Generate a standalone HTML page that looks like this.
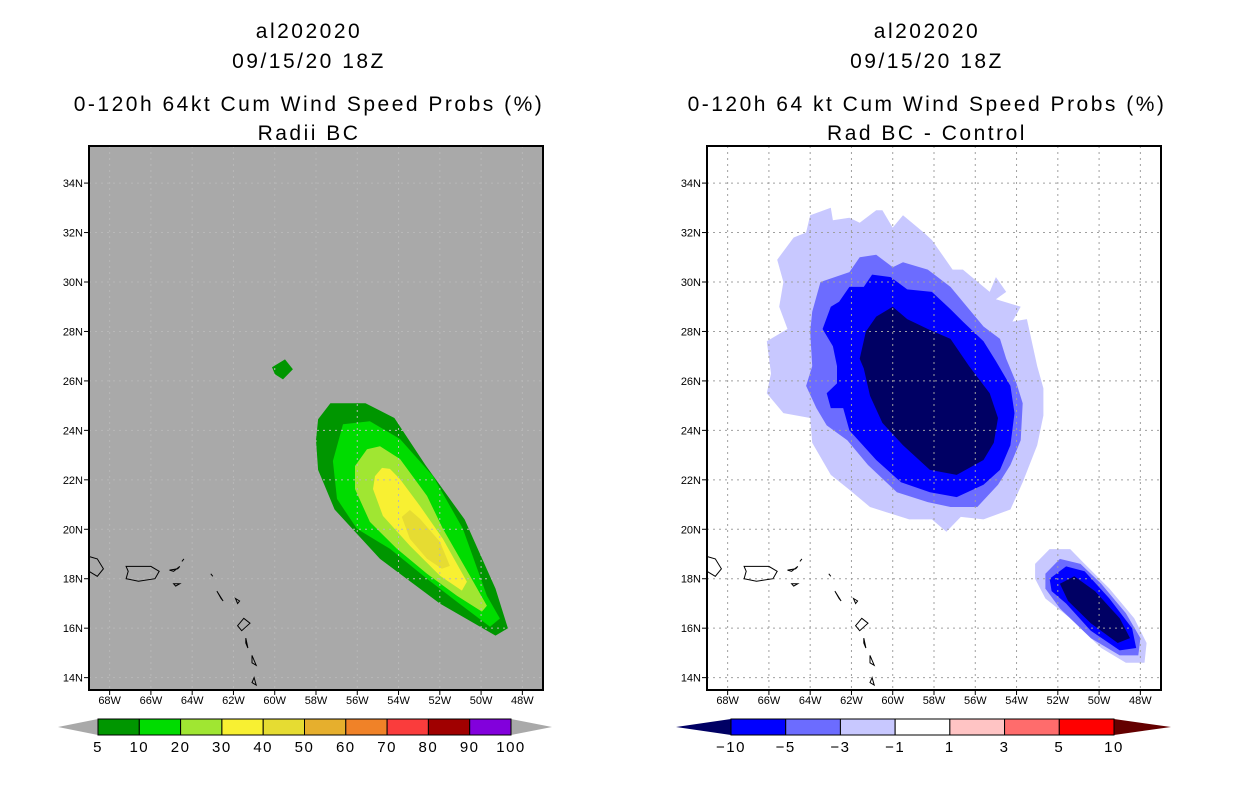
<!DOCTYPE html>
<html><head><meta charset="utf-8"><style>
html,body{margin:0;padding:0;background:#fff;}
svg{display:block;font-family:"Liberation Sans",sans-serif;}
</style></head><body>
<svg id="chart" width="1236" height="800" viewBox="0 0 1236 800" xmlns="http://www.w3.org/2000/svg"></svg>
<script>
// ---- data ----
const latTicks = [14,16,18,20,22,24,26,28,30,32,34];
const lonTicks = [-68,-66,-64,-62,-60,-58,-56,-54,-52,-50,-48];
const leftLevels = ["5","10","20","30","40","50","60","70","80","90","100"];
const leftColors = ["#009600","#00dc00","#a0e632","#f8f032","#e6dc32","#e6af2d","#f08228","#fa3c3c","#a00000","#8200dc"];
const rightLevels = ["-10","-5","-3","-1","1","3","5","10"];
const rightColors = ["#0000ff","#6c6cff","#c8c8ff","#ffffff","#ffc4c4","#ff6c6c","#ff0000"];
// contour polygons [lon, lat]
const leftC10 = [[-57.9,24.45],[-57.3,25.1],[-55.6,25.1],[-54.2,24.5],[-52.7,22.6],[-50.8,20.4],[-49.3,17.6],[-48.7,16.0],[-49.3,15.7],[-52.0,17.0],[-54.9,18.8],[-57.1,20.8],[-57.9,22.4],[-58.0,23.6]];
const leftPatch = [[-60.13,26.55],[-59.5,26.87],[-59.12,26.47],[-59.6,26.06],[-59.99,26.27]];
const leftC20 = [[-57.18,22.76],[-56.69,24.25],[-55.39,24.37],[-53.93,23.65],[-52.33,22.15],[-50.88,20.02],[-49.72,17.31],[-49.09,16.39],[-49.57,16.06],[-51.17,17.07],[-52.62,18.0],[-54.42,19.21],[-56.02,20.02],[-56.98,21.23]];
const leftC30 = [[-56.11,22.56],[-55.53,23.24],[-54.90,23.36],[-53.93,22.84],[-52.62,21.35],[-51.85,20.02],[-50.54,18.12],[-49.72,16.91],[-49.96,16.67],[-51.17,17.31],[-52.62,18.2],[-54.08,19.21],[-55.39,20.30],[-56.11,21.63]];
const leftC40 = [[-55.14,22.15],[-54.80,22.48],[-54.42,22.44],[-53.93,22.03],[-52.96,20.94],[-51.85,19.61],[-50.69,17.88],[-50.93,17.52],[-51.99,18.12],[-53.45,19.33],[-54.76,20.54],[-55.24,21.63]];
const leftC50 = [[-53.84,20.5],[-53.45,20.78],[-52.96,20.42],[-51.99,19.49],[-51.51,18.52],[-51.9,18.4],[-52.62,18.81],[-53.45,19.61]];
const rightC1 = [[-64.0,32.7],[-63.0,33.0],[-62.9,32.5],[-62.1,32.6],[-61.6,32.4],[-60.8,32.9],[-60.5,32.9],[-60.0,32.2],[-59.5,32.7],[-58.5,32.0],[-58.1,31.7],[-57.1,30.5],[-56.6,30.5],[-55.3,29.6],[-55.0,30.2],[-54.5,29.6],[-55.0,29.3],[-53.8,29.0],[-54.2,28.4],[-53.5,28.5],[-53.0,26.6],[-52.7,25.7],[-52.7,24.6],[-53.0,23.4],[-53.7,21.9],[-54.3,20.8],[-55.6,20.4],[-56.7,20.5],[-57.4,19.9],[-58.1,20.4],[-59.2,20.4],[-61.1,20.9],[-62.1,21.6],[-63.0,22.2],[-63.9,23.5],[-64.0,24.5],[-65.3,24.7],[-66.1,25.5],[-65.9,26.3],[-66.1,27.6],[-65.1,28.1],[-65.5,29.0],[-65.3,30.0],[-65.6,30.9],[-64.8,31.8],[-64.2,32.0]];
const rightC3 = [[-63.5,30.0],[-62.1,30.4],[-61.6,31.0],[-60.8,31.1],[-60.0,30.6],[-59.5,30.8],[-58.3,30.5],[-57.2,29.8],[-56.3,28.9],[-55.6,28.2],[-54.8,27.7],[-54.5,26.9],[-54.0,25.9],[-53.7,25.1],[-53.8,23.6],[-54.3,22.6],[-54.9,21.8],[-55.9,20.9],[-57.2,20.9],[-58.3,21.1],[-59.8,21.5],[-61.2,22.6],[-62.2,23.6],[-63.2,24.2],[-63.7,24.9],[-64.2,25.8],[-63.9,26.6],[-64.0,28.0],[-63.9,28.8]];
const rightC5 = [[-63.0,29.0],[-62.6,29.2],[-62.1,29.8],[-61.4,29.8],[-61.0,30.3],[-60.1,30.2],[-59.3,29.7],[-58.1,29.6],[-57.2,28.9],[-56.6,28.4],[-55.6,27.6],[-55.0,26.8],[-54.3,25.8],[-54.1,24.7],[-54.3,23.4],[-54.8,22.4],[-55.6,21.8],[-56.9,21.3],[-58.2,21.5],[-59.6,21.9],[-60.8,22.8],[-62.1,24.0],[-62.4,24.9],[-63.0,24.9],[-63.2,25.5],[-62.7,25.9],[-62.7,26.6],[-62.9,27.4],[-63.4,28.1]];
const rightC10 = [[-60.0,29.0],[-59.3,28.5],[-58.3,28.1],[-57.2,27.7],[-56.3,26.6],[-55.3,25.5],[-54.9,24.5],[-55.1,23.5],[-55.6,22.8],[-56.9,22.2],[-58.2,22.4],[-59.5,23.4],[-60.5,24.3],[-61.1,25.4],[-61.4,26.5],[-61.6,26.9],[-61.3,28.0],[-60.8,28.6]];
const smallC1 = [[-53.1,18.6],[-52.4,19.2],[-51.4,19.2],[-50.7,18.6],[-49.5,17.6],[-48.3,16.4],[-47.7,15.4],[-47.8,14.6],[-48.7,14.6],[-49.9,15.2],[-51.4,16.4],[-52.6,17.2],[-53.1,18.0]];
const smallC3 = [[-52.6,18.2],[-51.9,18.8],[-50.9,18.6],[-49.9,17.8],[-48.7,16.6],[-48.0,15.6],[-48.1,14.9],[-49.0,14.9],[-50.4,15.6],[-51.9,16.8],[-52.6,17.6]];
const smallC5 = [[-52.4,18.0],[-51.6,18.5],[-50.7,18.3],[-49.5,17.2],[-48.4,16.0],[-48.2,15.2],[-49.0,15.1],[-50.4,15.9],[-51.6,17.0],[-52.3,17.5]];
const smallC10 = [[-51.9,17.8],[-51.2,18.1],[-50.2,17.5],[-49.0,16.4],[-48.5,15.6],[-49.1,15.4],[-50.4,16.2],[-51.5,17.1]];
// coastlines
const coasts = [
 [[-69,18.9],[-68.6,18.8],[-68.3,18.4],[-68.6,18.1],[-68.8,18.2],[-69,18.3]],
 [[-67.2,18.5],[-66.0,18.5],[-65.6,18.3],[-65.8,18.0],[-66.6,17.9],[-67.2,18.0],[-67.1,18.3]],
 [[-65.1,18.35],[-64.7,18.4],[-64.6,18.5],[-64.9,18.3]],
 [[-64.5,18.7],[-64.4,18.8]],
 [[-64.9,17.8],[-64.6,17.8],[-64.8,17.7]],
 [[-63.1,18.2],[-63.0,18.1]],
 [[-62.8,17.5],[-62.6,17.2],[-62.5,17.1]],
 [[-61.9,17.2],[-61.7,17.1],[-61.8,17.0]],
 [[-61.8,16.1],[-61.5,16.4],[-61.2,16.2],[-61.6,15.9]],
 [[-61.4,15.6],[-61.3,15.2],[-61.4,15.4]],
 [[-61.1,14.9],[-60.9,14.5],[-61.1,14.6]],
 [[-61.0,14.0],[-60.9,13.7],[-61.1,13.8]]
];

// ---- axes ----
const NS='http://www.w3.org/2000/svg';
const svg=document.getElementById('chart');
function el(tag,attrs,parent){const e=document.createElementNS(NS,tag);for(const k in attrs)e.setAttribute(k,attrs[k]);(parent||svg).appendChild(e);return e;}
const TOP=146,BOT=690,LATMAX=35.5,LATMIN=13.5,LONMIN=-69,LONMAX=-47;
function yScale(lat){return TOP+(LATMAX-lat)*(BOT-TOP)/(LATMAX-LATMIN);}
function makeX(x0){return lon=>x0+(lon-LONMIN)*454/(LONMAX-LONMIN);}
function pts(poly,xs){return poly.map(p=>xs(p[0]).toFixed(1)+','+yScale(p[1]).toFixed(1)).join(' ');}
function fmtLat(v){return v+'N';}
function fmtLon(v){return (-v)+'W';}

function panel(x0,bg,title2,title4,polys,name){
  const xs=makeX(x0);
  const g=el('g',{});
  
  
  const cx=x0+220;
  [['al202020',38,'title-storm-id'],['09/15/20 18Z',68,'title-date'],[title2,111,'title-product'],[title4,140,'title-subtitle']].forEach(t=>{
    const tx=el('text',{x:cx,y:t[1],'text-anchor':'middle','font-size':21,fill:'#000','letter-spacing':'2.5'},g);
    
    
    tx.textContent=t[0];
  });
  const r=el('rect',{x:x0,y:TOP,width:454,height:BOT-TOP,fill:bg},g);
  
  
  polys.forEach(p=>{
    const pg=el('polygon',{points:pts(p[0],xs),fill:p[1]},g);
    
    
  });
  const gridCol=bg==='#fff'?'#a0a0a0':'#b8b8b8';
  lonTicks.forEach(v=>{const l=el('line',{x1:xs(v),x2:xs(v),y1:TOP,y2:BOT,stroke:gridCol,'stroke-width':1,'stroke-dasharray':'2,4'},g);
    });
  latTicks.forEach(v=>{const l=el('line',{x1:x0,x2:x0+454,y1:yScale(v),y2:yScale(v),stroke:gridCol,'stroke-width':1,'stroke-dasharray':'2,4'},g);
    });
  coasts.forEach(c=>{const pl=el('polygon',{points:pts(c,xs),fill:'none',stroke:'#000','stroke-width':1},g);
    });
  const f=el('rect',{x:x0,y:TOP,width:454,height:BOT-TOP,fill:'none',stroke:'#000','stroke-width':2},g);
  
  latTicks.forEach(v=>{
    el('line',{x1:x0-5,x2:x0,y1:yScale(v),y2:yScale(v),stroke:'#000'},g);
    const t=el('text',{x:x0-6,y:yScale(v)+4,'text-anchor':'end','font-size':11},g);
    
    t.textContent=fmtLat(v);
  });
  lonTicks.forEach(v=>{
    el('line',{x1:xs(v),x2:xs(v),y1:BOT,y2:BOT+5,stroke:'#000'},g);
    const t=el('text',{x:xs(v),y:BOT+14,'text-anchor':'middle','font-size':11},g);
    
    t.textContent=fmtLon(v);
  });
}

panel(89,'#a9a9a9','0-120h 64kt Cum Wind Speed Probs (%)','Radii BC',
 [[leftPatch,'#009600','5'],[leftC10,'#009600','5'],[leftC20,'#00dc00','10'],[leftC30,'#a0e632','20'],[leftC40,'#f8f032','30'],[leftC50,'#e6dc32','40']],'left-panel-radii-bc');
panel(707,'#fff','0-120h 64 kt Cum Wind Speed Probs (%)','Rad BC - Control',
 [[rightC1,'#c8c8ff','m1'],[rightC3,'#6c6cff','m3'],[rightC5,'#0000ff','m5'],[rightC10,'#000064','m10'],
  [smallC1,'#c8c8ff','m1'],[smallC3,'#6c6cff','m3'],[smallC5,'#0000ff','m5'],[smallC10,'#000064','m10']],'right-panel-difference');

// ---- colorbars ----
function colorbar(x0,x1,triL,triR,colors,labels,lcol,rcol,name){
  const g=el('g',{});
  
  
  const y0=719,y1=735,ym=727;
  const w=(x1-x0)/colors.length;
  el('polygon',{points:`${triL},${ym} ${x0},${y0} ${x0},${y1}`,fill:lcol},g);
  el('polygon',{points:`${triR},${ym} ${x1},${y0} ${x1},${y1}`,fill:rcol},g);
  colors.forEach((c,i)=>{
    const r=el('rect',{x:x0+i*w,y:y0,width:w,height:y1-y0,fill:c,stroke:'#000','stroke-width':1},g);
    
  });
  labels.forEach((l,i)=>{
    const t=el('text',{x:x0+i*w,y:752,'text-anchor':'middle','font-size':15,'letter-spacing':'1.5'},g);
    
    t.textContent=l.replace('-','\u2212');
  });
}
colorbar(98,511,58,552,leftColors,leftLevels,'#a9a9a9','#a9a9a9','left-colorbar');
colorbar(731,1114,676,1171,rightColors,rightLevels,'#000064','#640000','right-colorbar');
</script>
</body></html>
